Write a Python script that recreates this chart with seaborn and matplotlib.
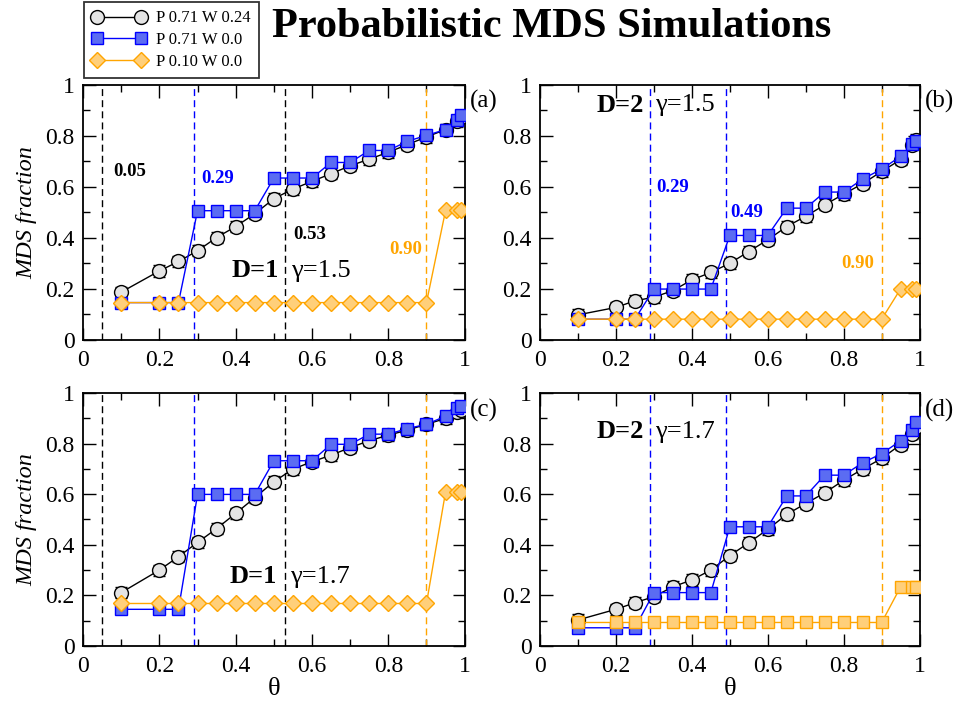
#!/usr/bin/env python3

import pandas as pd
import seaborn as sns
import matplotlib.pyplot as plt
from matplotlib.lines import Line2D
from matplotlib.ticker import MultipleLocator, FuncFormatter

sns.set_style("ticks", {"xtick.direction": "in", "ytick.direction": "in"})
plt.rcParams['font.family'] = ['Liberation Serif', 'DejaVu Serif']
plt.rcParams['text.color'] = 'k'
plt.rcParams['axes.labelcolor'] = 'k'

# theta values shared by every series
theta = [0.1, 0.2, 0.25, 0.3, 0.35, 0.4, 0.45, 0.5, 0.55, 0.6, 0.65,
         0.7, 0.75, 0.8, 0.85, 0.9, 0.95, 0.98, 0.99]

# (a) D=1, gamma=1.5
a_w024 = [0.187, 0.27, 0.307, 0.349, 0.401, 0.444, 0.494, 0.553, 0.591, 0.621,
          0.651, 0.682, 0.708, 0.735, 0.765, 0.795, 0.824, 0.856, 0.875]
a_w00 = [0.146, 0.146, 0.146, 0.506, 0.506, 0.506, 0.506, 0.634, 0.634, 0.634,
         0.695, 0.695, 0.742, 0.742, 0.778, 0.801, 0.824, 0.863, 0.882]
a_p010 = [0.146, 0.146, 0.146, 0.146, 0.146, 0.146, 0.146, 0.146, 0.146, 0.146,
          0.146, 0.146, 0.146, 0.146, 0.146, 0.146, 0.507, 0.507, 0.507]

# (b) D=2, gamma=1.5
b_w024 = [0.098, 0.127, 0.153, 0.167, 0.193, 0.235, 0.264, 0.30, 0.346, 0.392,
          0.444, 0.484, 0.529, 0.571, 0.612, 0.66, 0.706, 0.765, 0.784]
b_w00 = [0.081, 0.081, 0.081, 0.199, 0.199, 0.199, 0.199, 0.409, 0.409, 0.409,
         0.516, 0.516, 0.579, 0.579, 0.63, 0.669, 0.719, 0.767, 0.778]
b_p010 = [0.081, 0.081, 0.081, 0.081, 0.081, 0.081, 0.081, 0.081, 0.081, 0.081,
          0.081, 0.081, 0.081, 0.081, 0.081, 0.081, 0.20, 0.20, 0.20]

# (c) D=1, gamma=1.7
c_w024 = [0.211, 0.30, 0.353, 0.409, 0.464, 0.524, 0.586, 0.649, 0.699, 0.728,
          0.754, 0.784, 0.811, 0.833, 0.853, 0.876, 0.899, 0.925, 0.934]
c_w00 = [0.145, 0.145, 0.145, 0.599, 0.599, 0.599, 0.599, 0.732, 0.732, 0.732,
         0.797, 0.797, 0.837, 0.837, 0.859, 0.876, 0.908, 0.941, 0.949]
c_p010 = [0.168, 0.168, 0.168, 0.168, 0.168, 0.168, 0.168, 0.168, 0.168, 0.168,
          0.168, 0.168, 0.168, 0.168, 0.168, 0.168, 0.609, 0.609, 0.609]

# (d) D=2, gamma=1.7
d_w024 = [0.103, 0.145, 0.171, 0.195, 0.234, 0.261, 0.30, 0.357, 0.408, 0.461,
          0.52, 0.563, 0.605, 0.655, 0.699, 0.741, 0.796, 0.839, 0.866]
d_w00 = [0.072, 0.072, 0.072, 0.211, 0.211, 0.211, 0.211, 0.471, 0.471, 0.471,
         0.593, 0.593, 0.675, 0.675, 0.724, 0.76, 0.811, 0.853, 0.886]
d_p010 = [0.093, 0.093, 0.093, 0.093, 0.093, 0.093, 0.093, 0.093, 0.093, 0.093,
          0.093, 0.093, 0.093, 0.093, 0.093, 0.093, 0.234, 0.234, 0.234]

# error bars of the W 0.24 series
w024_err = [0.022, 0.022, 0.022, 0.022, 0.022, 0.022, 0.022, 0.022, 0.022, 0.022,
            0.022, 0.022, 0.022, 0.022, 0.022, 0.022, 0.022, 0.022, 0.022]

labels = ["P 0.71 W 0.24", "P 0.71 W 0.0", "P 0.10 W 0.0"]

BLUE = "#0000ff"
BLUE_FACE = "#5b6cf2"
ORANGE = "#ffa500"
ORANGE_FACE = "#ffcf7a"
GREY_FACE = "#e4e4e4"

fig = plt.figure(figsize=(9.66, 7.11), dpi=100)

positions = {
    "a": [0.086, 0.522, 0.395, 0.359],
    "b": [0.559, 0.522, 0.393, 0.359],
    "c": [0.086, 0.0914, 0.395, 0.356],
    "d": [0.559, 0.0914, 0.393, 0.356],
}

panels = {
    "a": (a_w024, a_w00, a_p010, "D"),
    "b": (b_w024, b_w00, b_p010, "D"),
    "c": (c_w024, c_w00, c_p010, "D"),
    "d": (d_w024, d_w00, d_p010, "s"),
}

lines = {
    "a": [(0.05, "k"), (0.29, BLUE), (0.53, "k"), (0.90, ORANGE)],
    "b": [(0.29, BLUE), (0.49, BLUE), (0.90, ORANGE)],
    "c": [(0.05, "k"), (0.29, BLUE), (0.53, "k"), (0.90, ORANGE)],
    "d": [(0.29, BLUE), (0.49, BLUE), (0.90, ORANGE)],
}

notes = {
    "a": [(0.079, 0.66, "0.05", "k"), (0.31, 0.634, "0.29", BLUE),
          (0.55, 0.412, "0.53", "k"), (0.803, 0.353, "0.90", ORANGE)],
    "b": [(0.305, 0.595, "0.29", BLUE), (0.50, 0.497, "0.49", BLUE),
          (0.794, 0.30, "0.90", ORANGE)],
    "c": [],
    "d": [],
}

headers = {
    "a": (0.39, 0.545, 0.27, "D=1", "γ=1.5"),
    "b": (0.149, 0.303, 0.92, "D=2", "γ=1.5"),
    "c": (0.385, 0.542, 0.274, "D=1", "γ=1.7"),
    "d": (0.149, 0.303, 0.846, "D=2", "γ=1.7"),
}

fmt = FuncFormatter(lambda v, p: "%g" % round(v, 2))

for key, (w024, w00, p010, omark) in panels.items():
    ax = fig.add_axes(positions[key])
    df = pd.DataFrame({"theta": theta, "w024": w024, "w00": w00, "p010": p010})

    for x, c in lines[key]:
        ax.axvline(x, color=c, ls=(0, (5, 3)), lw=1, zorder=1)

    ax.errorbar(df.theta, df.w024, yerr=w024_err, fmt="none", ecolor="k",
                elinewidth=1, capsize=4, zorder=2)
    sns.lineplot(data=df, x="theta", y="w024", ax=ax, color="k", lw=1,
                 marker="o", markersize=10, markerfacecolor=GREY_FACE,
                 markeredgecolor="k", markeredgewidth=1, zorder=3)
    sns.lineplot(data=df, x="theta", y="w00", ax=ax, color=BLUE, lw=1,
                 marker="s", markersize=9, markerfacecolor=BLUE_FACE,
                 markeredgecolor=BLUE, markeredgewidth=1, zorder=4)
    sns.lineplot(data=df, x="theta", y="p010", ax=ax, color=ORANGE, lw=1,
                 marker=omark, markersize=9 if omark == "s" else 8,
                 markerfacecolor=ORANGE_FACE, markeredgecolor=ORANGE,
                 markeredgewidth=1, zorder=5)

    for x, y, t, c in notes[key]:
        ax.text(x, y, t, color=c, fontsize=13.5, fontweight="bold",
                ha="left", va="center")

    hx1, hx2, hy, dtxt, gtxt = headers[key]
    ax.text(hx1, hy, dtxt, fontsize=19, fontweight="bold", ha="left", va="center")
    ax.text(hx2, hy, gtxt, fontsize=19, ha="left", va="center")

    ax.set_xlim(0, 1)
    ax.set_ylim(0, 1)
    ax.xaxis.set_major_locator(MultipleLocator(0.2))
    ax.xaxis.set_minor_locator(MultipleLocator(0.1))
    ax.yaxis.set_major_locator(MultipleLocator(0.2))
    ax.yaxis.set_minor_locator(MultipleLocator(0.1))
    ax.xaxis.set_major_formatter(fmt)
    ax.yaxis.set_major_formatter(fmt)
    ax.tick_params(which="both", direction="in", top=True, right=True,
                   labelsize=17, width=1, colors="k")
    ax.tick_params(which="major", length=9)
    ax.tick_params(which="minor", length=5)
    ax.tick_params(axis="x", which="major", pad=7)
    ax.tick_params(axis="y", which="major", pad=6)
    for s in ax.spines.values():
        s.set_linewidth(1.3)
        s.set_color("k")

    if key in ("a", "c"):
        ax.set_ylabel("MDS fraction", fontsize=17.5, fontstyle="italic",
                      labelpad=6)
    else:
        ax.set_ylabel("")
    if key in ("c", "d"):
        ax.set_xlabel("θ", fontsize=19, labelpad=1)
    else:
        ax.set_xlabel("")

    p = positions[key]
    fig.text(p[0] + p[2] + 0.005, p[1] + p[3] - 0.024, "(%s)" % key,
             fontsize=18, ha="left", va="center")

handles = [
    Line2D([], [], color="k", lw=1, marker="o", markersize=10,
           markerfacecolor=GREY_FACE, markeredgecolor="k"),
    Line2D([], [], color=BLUE, lw=1, marker="s", markersize=9,
           markerfacecolor=BLUE_FACE, markeredgecolor=BLUE),
    Line2D([], [], color=ORANGE, lw=1, marker="D", markersize=8,
           markerfacecolor=ORANGE_FACE, markeredgecolor=ORANGE),
]
leg = fig.legend(handles, labels, loc="upper left",
                 bbox_to_anchor=(0.087, 0.997), borderaxespad=0,
                 numpoints=2, handlelength=3.2,
                 fontsize=12, frameon=True, fancybox=False, borderpad=0.5,
                 labelspacing=0.35, handletextpad=0.6)
leg.get_frame().set_edgecolor("k")
leg.get_frame().set_linewidth(1.3)

fig.text(0.2816, 0.962, "Probabilistic MDS Simulations", fontsize=30.5,
         fontweight="bold", ha="left", va="center")

plt.savefig("out.png", dpi=100)
